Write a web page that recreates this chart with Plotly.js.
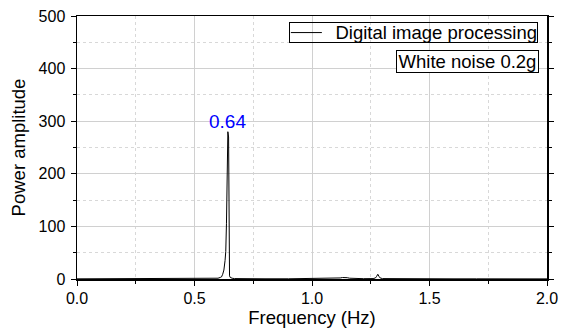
<!DOCTYPE html>
<html>
<head>
<meta charset="utf-8">
<script src="https://cdn.plot.ly/plotly-3.0.1.min.js"></script>
<style>html,body{margin:0;padding:0;background:#fff;}#chart{width:569px;height:328px;}</style>
</head>
<body>
<div id="chart"></div>
<script>
const freq = [0, 0.1, 0.2, 0.3, 0.4, 0.5, 0.55, 0.58, 0.60, 0.61, 0.615, 0.62, 0.625, 0.63, 0.633, 0.636, 0.638, 0.640, 0.642, 0.645, 0.647, 0.649, 0.652, 0.656, 0.66, 0.67, 0.7, 0.8, 0.9, 1.0, 1.05, 1.1, 1.12, 1.13, 1.14, 1.15, 1.16, 1.18, 1.22, 1.26, 1.27, 1.275, 1.28, 1.285, 1.29, 1.30, 1.35, 1.4, 1.5, 1.6, 1.7, 1.8, 1.9, 2.0];
const amplitude = [0.3, 0.3, 0.3, 0.3, 0.3, 0.4, 0.5, 0.8, 1.5, 3, 4, 9, 17, 35, 52, 105, 170, 260, 280, 270, 40, 6, 3, 2, 1.5, 0.8, 0.5, 0.4, 0.4, 0.5, 0.6, 1, 2, 2.8, 3, 2.5, 1.5, 0.8, 0.6, 0.8, 2, 5, 9, 5, 2, 0.8, 0.5, 0.4, 0.3, 0.3, 0.3, 0.2, 0.2, 0.2];
const seriesName = "Digital image processing";
const peakFreq = 0.64;
const peakAmp = 280;
const peakLabel = "0.64";
const conditionLabel = "White noise 0.2g";
const xTitle = "Frequency (Hz)";
const yTitle = "Power amplitude";

const FONT = "Liberation Sans, Arial, sans-serif";

const trace = {
  x: freq, y: amplitude, type: "scatter", mode: "lines",
  name: seriesName, line: {color: "#000", width: 1}, showlegend: false
};

const layout = {
  width: 569, height: 328,
  margin: {l: 77, r: 22, t: 16, b: 49},
  paper_bgcolor: "#fff", plot_bgcolor: "#fff",
  font: {family: FONT, color: "#000", size: 16},
  showlegend: false,
  xaxis: {
    range: [0, 2], dtick: 0.5, tick0: 0, tickformat: ".1f",
    showline: true, linecolor: "#000", linewidth: 1.5, mirror: true,
    ticks: "outside", ticklen: 5, tickcolor: "#000", tickwidth: 1,
    showgrid: true, gridcolor: "#d0d0d0", gridwidth: 1, zeroline: false,
    tickfont: {family: FONT, size: 16, color: "#000"},
    ticklabelstandoff: -1,
    minor: {dtick: 0.25, ticks: "outside", ticklen: 3, tickcolor: "#000", showgrid: true, gridcolor: "#d8d8d8", griddash: "dot"},
    title: {text: xTitle, font: {family: FONT, size: 18.5, color: "#000"}, standoff: 4}
  },
  yaxis: {
    range: [0, 500], dtick: 100, tick0: 0,
    showline: true, linecolor: "#000", linewidth: 1.5, mirror: "ticks",
    ticks: "outside", ticklen: 5, tickcolor: "#000", tickwidth: 1,
    showgrid: true, gridcolor: "#d0d0d0", gridwidth: 1, zeroline: false,
    tickfont: {family: FONT, size: 16, color: "#000"},
    ticklabelstandoff: 2,
    minor: {dtick: 50, ticks: "outside", ticklen: 3, tickcolor: "#000", showgrid: true, gridcolor: "#d8d8d8", griddash: "dot"},
    title: {text: yTitle, font: {family: FONT, size: 18.5, color: "#000"}, standoff: 8}
  },
  shapes: [
    {type: "line", xref: "paper", yref: "paper", x0: 0.455, x1: 0.521, y0: 0.937, y1: 0.937,
     line: {color: "#000", width: 1}}
  ],
  annotations: [
    {x: peakFreq, y: peakAmp, xref: "x", yref: "y", text: peakLabel, showarrow: false,
     yanchor: "bottom", yshift: -2, font: {family: FONT, size: 19, color: "#0000ff"}},
    {x: 0.981, y: 0.977, xref: "paper", yref: "paper", xanchor: "right", yanchor: "top",
     text: seriesName, showarrow: false, bordercolor: "#000", borderwidth: 1, borderpad: 0,
     width: 247, height: 19, align: "right",
     font: {family: FONT, size: 18.5, color: "#000"}},
    {x: 0.983, y: 0.871, xref: "paper", yref: "paper", xanchor: "right", yanchor: "top",
     text: conditionLabel, showarrow: false, bordercolor: "#000", borderwidth: 1, borderpad: 0,
     width: 141, height: 21, align: "center",
     bgcolor: "#fff", font: {family: FONT, size: 18.5, color: "#000"}}
  ]
};

Plotly.newPlot("chart", [trace], layout, {displayModeBar: false, staticPlot: true});
</script>
</body>
</html>
